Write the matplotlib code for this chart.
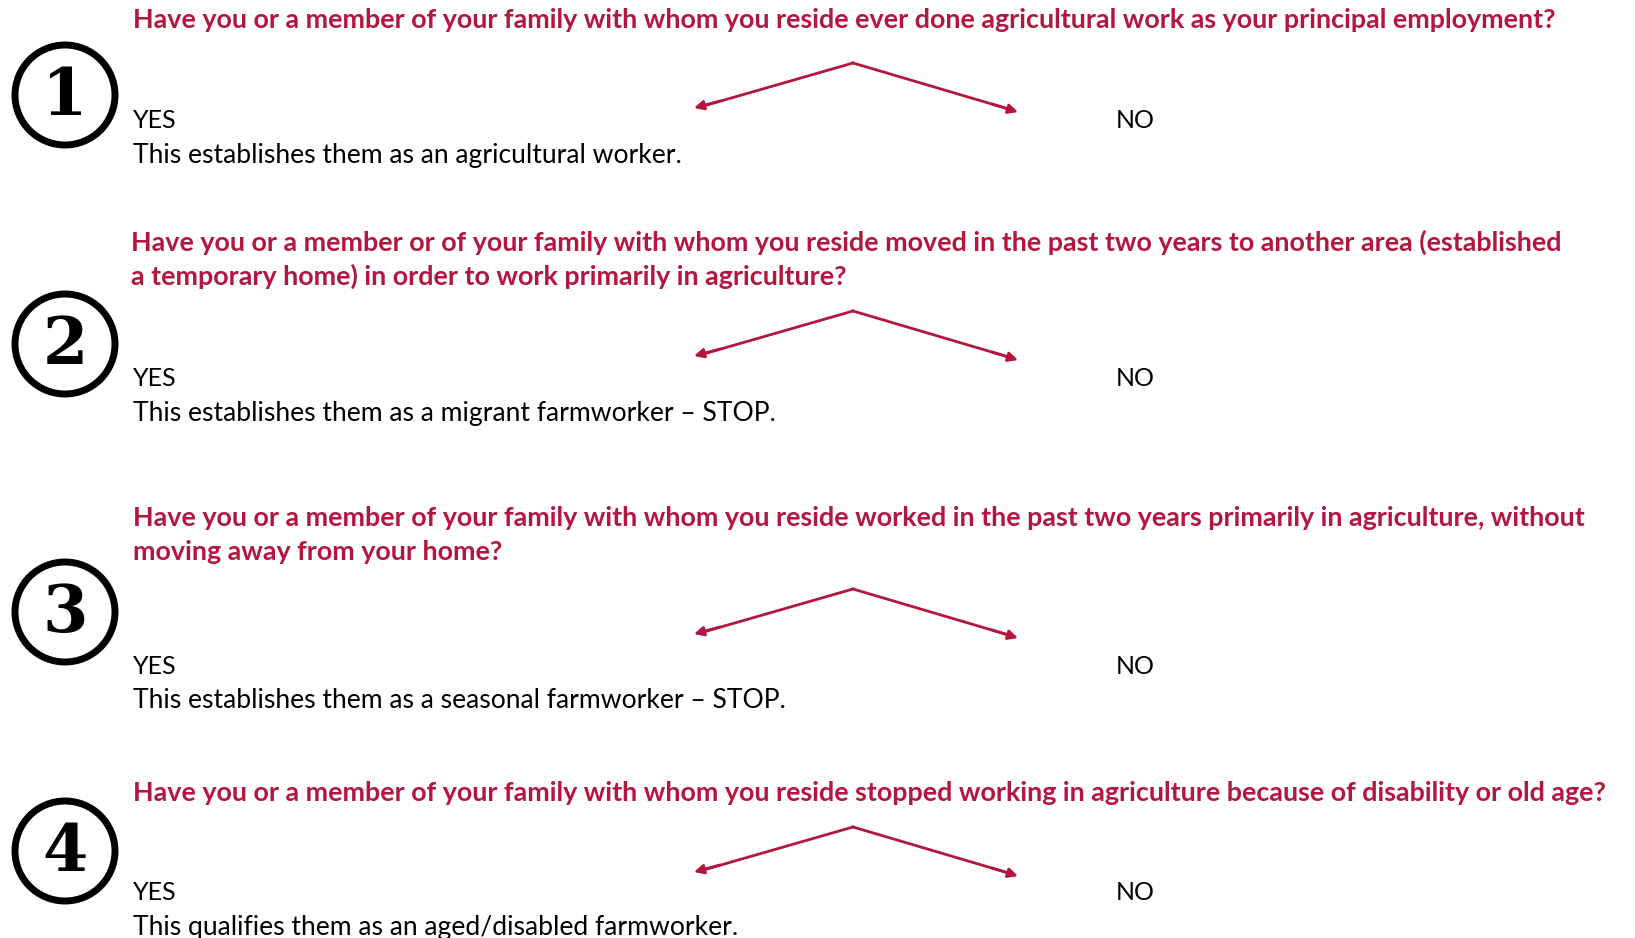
"""
Farmworker eligibility questions - flow diagram
"""
import matplotlib
matplotlib.use('Agg')
import matplotlib.pyplot as plt
from matplotlib.patches import Circle

W, H = 1635, 938
RED = '#b3173f'

numbers = ['1', '2', '3', '4']
questions = [
    ['Have you or a member of your family with whom you reside ever done agricultural work as your principal employment?'],
    ['Have you or a member or of your family with whom you reside moved in the past two years to another area (established',
     'a temporary home) in order to work primarily in agriculture?'],
    ['Have you or a member of your family with whom you reside worked in the past two years primarily in agriculture, without',
     'moving away from your home?'],
    ['Have you or a member of your family with whom you reside stopped working in agriculture because of disability or old age?'],
]
yes_text = ['This establishes them as an agricultural worker.',
            'This establishes them as a migrant farmworker \u2013 STOP.',
            'This establishes them as a seasonal farmworker \u2013 STOP.',
            'This qualifies them as an aged/disabled farmworker.']

# layout (pixels, y downwards)
circle_y = [95, 344, 612, 851]
question_y = [20, 242, 518, 793]
question_x = [133, 131, 133, 133]
apex_y = [63, 311, 589, 827]
yes_y = [121, 378, 666, 892]
line_gap = 34


def main():
    fig = plt.figure(figsize=(W / 100, H / 100), dpi=100)
    ax = fig.add_axes([0, 0, 1, 1])
    ax.set_xlim(0, W)
    ax.set_ylim(H, 0)
    ax.axis('off')

    font = ['Lato', 'DejaVu Sans']
    for i in range(4):
        # numbered circle
        ax.add_patch(Circle((65, circle_y[i]), 50, fill=False, lw=5, ec='black'))
        ax.text(65, circle_y[i] + 2, numbers[i], ha='center', va='center',
                fontsize=47, fontweight='bold', family='DejaVu Serif')

        # question
        for j, line in enumerate(questions[i]):
            ax.text(question_x[i], question_y[i] + j * line_gap, line, color=RED,
                    fontsize=19.4, fontweight='bold', family=font,
                    ha='left', va='center')

        # branching arrows
        ay = apex_y[i]
        ax.plot([853, 700], [ay, ay + 44], color=RED, lw=2)
        ax.plot([853, 1012], [ay, ay + 47], color=RED, lw=2)
        ax.annotate('', xy=(694, ay + 45), xytext=(720, ay + 38),
                    arrowprops=dict(arrowstyle='-|>', color=RED, lw=2,
                                    mutation_scale=14, shrinkA=0, shrinkB=0))
        ax.annotate('', xy=(1018, ay + 49), xytext=(992, ay + 41),
                    arrowprops=dict(arrowstyle='-|>', color=RED, lw=2,
                                    mutation_scale=14, shrinkA=0, shrinkB=0))

        # answers
        ax.text(133, yes_y[i], 'YES', fontsize=18, family=font, ha='left', va='center')
        ax.text(1116, yes_y[i], 'NO', fontsize=18, family=font, ha='left', va='center')
        ax.text(133, yes_y[i] + 35, yes_text[i], fontsize=19.1, family=font,
                ha='left', va='center')

    fig.savefig('out.png', dpi=100, facecolor='white')
    plt.close(fig)


if __name__ == '__main__':
    main()
